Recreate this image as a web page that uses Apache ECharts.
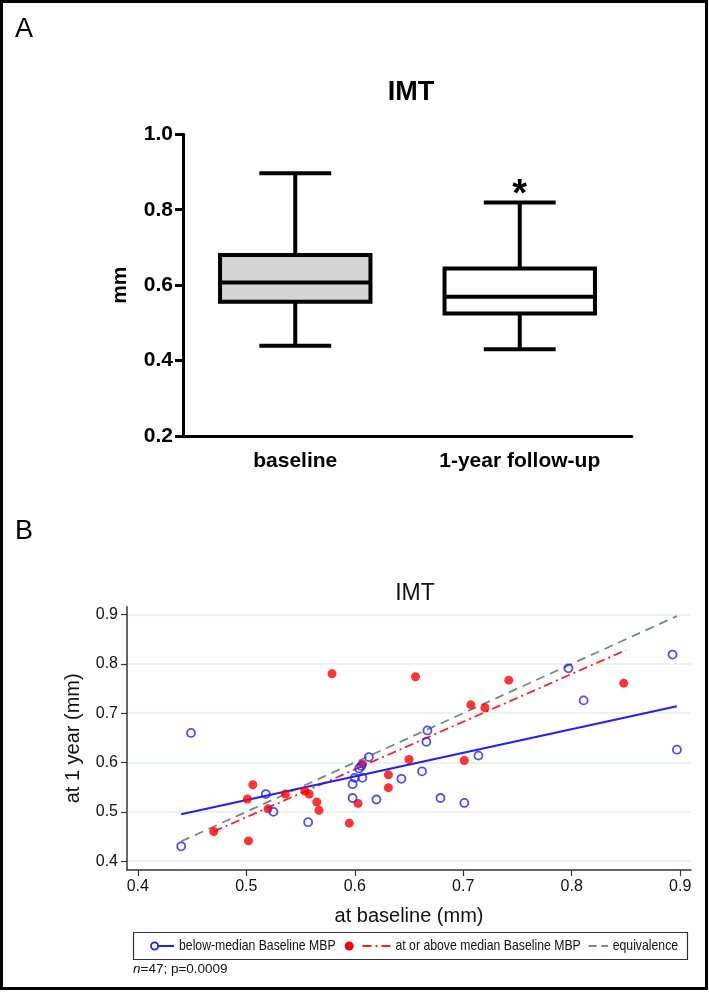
<!DOCTYPE html>
<html>
<head>
<meta charset="utf-8">
<script src="https://cdn.jsdelivr.net/npm/echarts@6/dist/echarts.min.js"></script>
<style>
html,body{margin:0;padding:0;background:#fff;}
#chart{width:709px;height:993px;}
</style>
</head>
<body>
<div id="chart"></div>
<script>
// ---------- Panel A data (box plot) ----------
const boxCategories = ['baseline', '1-year follow-up'];
const boxMin    = [0.439, 0.430];
const boxQ1     = [0.556, 0.525];
const boxMedian = [0.607, 0.569];
const boxQ3     = [0.680, 0.644];
const boxMax    = [0.897, 0.819];
const boxMarks  = ['', '*'];

// ---------- Panel B data (scatter) ----------
const blueX = [0.440, 0.449, 0.518, 0.525, 0.557, 0.598, 0.598, 0.600, 0.607, 0.604, 0.606, 0.613, 0.620, 0.643, 0.662, 0.666, 0.667, 0.679, 0.701, 0.714, 0.797, 0.811, 0.893, 0.897];
const blueY = [0.430, 0.660, 0.536, 0.500, 0.479, 0.528, 0.556, 0.569, 0.569, 0.588, 0.593, 0.611, 0.525, 0.567, 0.582, 0.642, 0.665, 0.528, 0.518, 0.614, 0.791, 0.726, 0.819, 0.626];
const redX = [0.470, 0.501, 0.506, 0.502, 0.520, 0.536, 0.554, 0.558, 0.565, 0.567, 0.579, 0.595, 0.603, 0.607, 0.631, 0.631, 0.650, 0.656, 0.701, 0.707, 0.720, 0.742, 0.848];
const redY = [0.460, 0.526, 0.555, 0.441, 0.506, 0.536, 0.542, 0.536, 0.520, 0.503, 0.780, 0.477, 0.517, 0.597, 0.575, 0.549, 0.606, 0.774, 0.604, 0.717, 0.711, 0.767, 0.761];
const blueFitX = [0.440, 0.897];
const blueFitY = [0.495, 0.714];
const redFitX = [0.470, 0.850];
const redFitY = [0.460, 0.828];
const eqX = [0.440, 0.897];
const eqY = [0.440, 0.897];
const scatterTicks = [0.4, 0.5, 0.6, 0.7, 0.8, 0.9];
const legendLabels = ['below-median Baseline MBP', 'at or above median Baseline MBP', 'equivalence'];
const noteText = 'n=47; p=0.0009';

const zip = (a, b) => a.map((v, i) => [v, b[i]]);

const chart = echarts.init(document.getElementById('chart'), null, {renderer: 'canvas'});

const boxData = boxCategories.map((c, i) => [i, boxMin[i], boxQ1[i], boxMedian[i], boxQ3[i], boxMax[i]]);

const FONT_A = 'Liberation Sans';
const FONT_B = 'Liberation Sans';

const legendText = (x, txt) => ({
  type: 'text', x: x, y: 946, scaleX: 0.845, scaleY: 1,
  style: {text: txt, fontFamily: FONT_B, fontSize: 14.5, fill: '#111', verticalAlign: 'middle'}
});

const option = {
  backgroundColor: '#fff',
  animation: false,
  title: [
    {text: 'IMT', left: 406, top: 74, textAlign: 'center',
     textStyle: {fontFamily: FONT_A, fontWeight: 'bold', fontSize: 27, color: '#000'}},
    {text: 'IMT', left: 410, top: 577, textAlign: 'center',
     textStyle: {fontFamily: FONT_B, fontWeight: 'normal', fontSize: 23, color: '#111'}}
  ],
  grid: [
    {left: 183, top: 134.3, width: 449, height: 301.7, outerBoundsMode: 'none'},
    {left: 127, top: 606.7, width: 564, height: 263.3, outerBoundsMode: 'none'}
  ],
  xAxis: [
    {type: 'category', gridIndex: 0, data: boxCategories,
     axisLine: {lineStyle: {color: '#000', width: 3}},
     axisTick: {show: false},
     axisLabel: {margin: 15, color: '#000', fontFamily: FONT_A, fontWeight: 'bold', fontSize: 21},
     splitLine: {show: false}},
    {type: 'value', gridIndex: 1, min: 0.39, max: 0.91,
     axisLine: {lineStyle: {color: '#333', width: 1.5}},
     axisTick: {show: true, length: 6, inside: false, customValues: scatterTicks, lineStyle: {color: '#333', width: 1.2}},
     axisLabel: {margin: 9, customValues: scatterTicks, color: '#111', fontFamily: FONT_B, fontSize: 16,
       formatter: v => v.toFixed(1)},
     splitLine: {show: false},
     name: 'at baseline (mm)', nameLocation: 'middle', nameGap: 36,
     nameTextStyle: {fontFamily: FONT_B, fontSize: 20, color: '#111'}}
  ],
  yAxis: [
    {type: 'value', gridIndex: 0, min: 0.2, max: 1.0, interval: 0.2,
     axisLine: {show: true, lineStyle: {color: '#000', width: 3}},
     axisTick: {show: true, length: 8, lineStyle: {color: '#000', width: 3}},
     axisLabel: {margin: 10, color: '#000', fontFamily: FONT_A, fontWeight: 'bold', fontSize: 21,
       formatter: v => v.toFixed(1)},
     splitLine: {show: false},
     name: 'mm', nameLocation: 'middle', nameGap: 52, nameRotate: 90,
     nameTextStyle: {fontFamily: FONT_A, fontWeight: 'bold', fontSize: 21, color: '#000'}},
    {type: 'value', gridIndex: 1, min: 0.382, max: 0.916,
     axisLine: {show: true, lineStyle: {color: '#333', width: 1.5}},
     axisTick: {show: true, length: 6, customValues: scatterTicks, lineStyle: {color: '#333', width: 1.2}},
     axisLabel: {margin: 9, customValues: scatterTicks, color: '#111', fontFamily: FONT_B, fontSize: 16,
       formatter: v => v.toFixed(1)},
     splitLine: {show: true, lineStyle: {color: '#e6eef1', width: 1.5}},
     name: 'at 1 year (mm)', nameLocation: 'middle', nameGap: 44, nameRotate: 90,
     nameTextStyle: {fontFamily: FONT_B, fontSize: 20, color: '#111'}}
  ],
  series: [
    {
      type: 'custom', xAxisIndex: 0, yAxisIndex: 0,
      data: boxData,
      encode: {x: 0, y: [1, 2, 3, 4, 5]},
      renderItem: function (params, api) {
        const i = api.value(0);
        const band = api.size([1, 0])[0];
        const bw = band * 0.67;
        const cw = band * 0.32;
        const pMin = api.coord([i, api.value(1)]);
        const pQ1 = api.coord([i, api.value(2)]);
        const pMed = api.coord([i, api.value(3)]);
        const pQ3 = api.coord([i, api.value(4)]);
        const pMax = api.coord([i, api.value(5)]);
        const cx = pMed[0];
        const ls = {stroke: '#000', lineWidth: 4, fill: null};
        const children = [
          {type: 'line', shape: {x1: cx, y1: pMax[1], x2: cx, y2: pQ3[1]}, style: ls},
          {type: 'line', shape: {x1: cx, y1: pQ1[1], x2: cx, y2: pMin[1]}, style: ls},
          {type: 'line', shape: {x1: cx - cw / 2, y1: pMax[1], x2: cx + cw / 2, y2: pMax[1]}, style: ls},
          {type: 'line', shape: {x1: cx - cw / 2, y1: pMin[1], x2: cx + cw / 2, y2: pMin[1]}, style: ls},
          {type: 'rect', shape: {x: cx - bw / 2, y: pQ3[1], width: bw, height: pQ1[1] - pQ3[1]},
            style: {stroke: '#000', lineWidth: 4, fill: i === 0 ? '#d4d4d4' : '#fff'}},
          {type: 'line', shape: {x1: cx - bw / 2, y1: pMed[1], x2: cx + bw / 2, y2: pMed[1]}, style: ls}
        ];
        const mark = boxMarks[i];
        if (mark) {
          children.push({type: 'text', style: {text: mark, x: cx, y: pMax[1] + 12, align: 'center', verticalAlign: 'bottom',
            fontFamily: FONT_A, fontWeight: 'bold', fontSize: 38, fill: '#000'}});
        }
        return {type: 'group', children: children};
      }
    },
    {type: 'line', xAxisIndex: 1, yAxisIndex: 1, data: zip(eqX, eqY), symbol: 'none',
     lineStyle: {color: '#6f8e80', width: 1.8, type: [9, 6]}, z: 3},
    {type: 'line', xAxisIndex: 1, yAxisIndex: 1, data: zip(redFitX, redFitY), symbol: 'none',
     lineStyle: {color: '#ff2020', width: 1.8, type: [9, 4, 2, 4]}, z: 3},
    {type: 'line', xAxisIndex: 1, yAxisIndex: 1, data: zip(blueFitX, blueFitY), symbol: 'none',
     lineStyle: {color: '#1f1fff', width: 2}, z: 3},
    {type: 'scatter', xAxisIndex: 1, yAxisIndex: 1, data: zip(redX, redY), symbol: 'circle', symbolSize: 9,
     itemStyle: {color: '#ff0000'}, z: 4},
    {type: 'scatter', xAxisIndex: 1, yAxisIndex: 1, data: zip(blueX, blueY), symbol: 'circle', symbolSize: 8,
     itemStyle: {color: 'rgba(255,255,255,0)', borderColor: '#2020ff', borderWidth: 1.8}, z: 5}
  ],
  graphic: [
    {type: 'rect', shape: {x: 1.5, y: 1.5, width: 705, height: 987}, style: {fill: null, stroke: '#000', lineWidth: 3}, silent: true},
    {type: 'text', left: 15, top: 16, style: {text: 'A', fontFamily: FONT_B, fontSize: 27, fill: '#000'}},
    {type: 'text', left: 15, top: 518, style: {text: 'B', fontFamily: FONT_B, fontSize: 27, fill: '#000'}},
    // legend
    {type: 'rect', shape: {x: 133.5, y: 932.5, width: 554, height: 27}, style: {fill: '#fff', stroke: '#333', lineWidth: 1.2}},
    {type: 'circle', shape: {cx: 154.6, cy: 946, r: 3.6}, style: {fill: 'none', stroke: '#2020ff', lineWidth: 1.8}},
    {type: 'line', shape: {x1: 157.5, y1: 946, x2: 174, y2: 946}, style: {stroke: '#1f1fff', lineWidth: 2}},
    legendText(179, legendLabels[0]),
    {type: 'circle', shape: {cx: 349.2, cy: 946, r: 4.5}, style: {fill: '#ff0000'}},
    {type: 'line', shape: {x1: 362.5, y1: 946, x2: 390.5, y2: 946}, style: {stroke: '#ff2020', lineWidth: 1.8, lineDash: [9, 4, 2, 4]}},
    legendText(395.5, legendLabels[1]),
    {type: 'line', shape: {x1: 588.5, y1: 946, x2: 608, y2: 946}, style: {stroke: '#6f8e80', lineWidth: 1.8, lineDash: [8, 5]}},
    legendText(612.7, legendLabels[2]),
    {type: 'text', x: 133, y: 969.5, style: {
      text: '{i|n}{r|' + noteText.slice(1) + '}', verticalAlign: 'middle',
      rich: {i: {fontFamily: FONT_B, fontStyle: 'italic', fontSize: 13.5, fill: '#111'},
             r: {fontFamily: FONT_B, fontSize: 13.5, fill: '#111'}}}}
  ]
};

chart.setOption(option);
</script>
</body>
</html>
